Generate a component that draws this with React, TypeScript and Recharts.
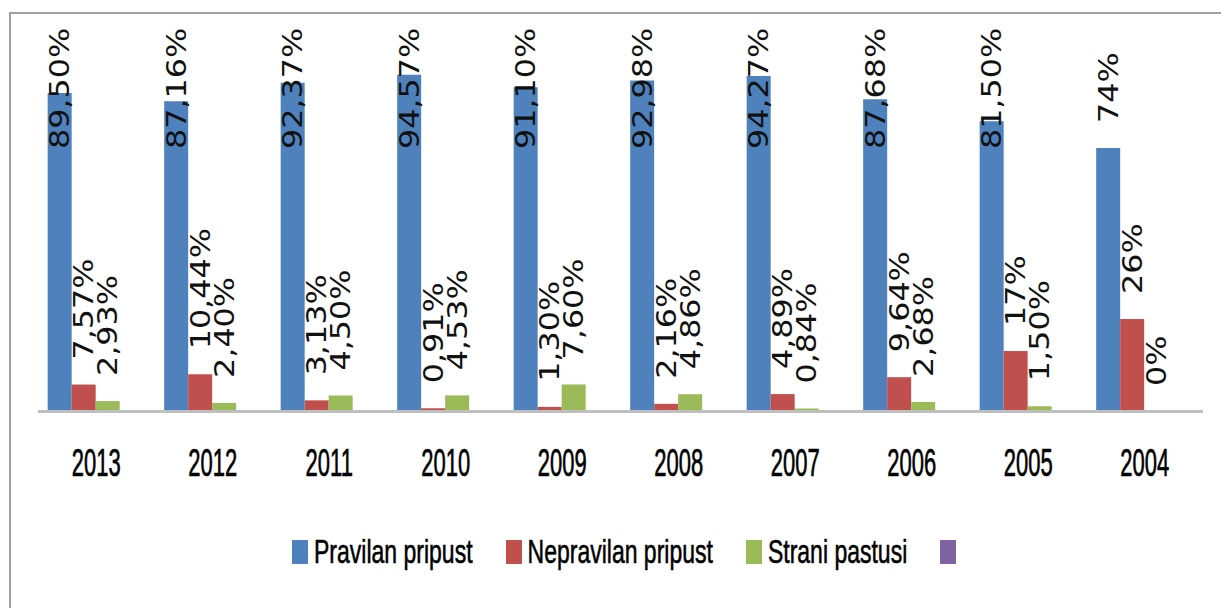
import React from 'react';
import { BarChart, Bar, XAxis, YAxis, LabelList, Legend } from 'recharts';

const years = ['2013', '2012', '2011', '2010', '2009', '2008', '2007', '2006', '2005', '2004'];
const pravilan = [89.5, 87.16, 92.37, 94.57, 91.1, 92.98, 94.27, 87.68, 81.5, 74];
const nepravilan = [7.57, 10.44, 3.13, 0.91, 1.3, 2.16, 4.89, 9.64, 17, 26];
const strani = [2.93, 2.4, 4.5, 4.53, 7.6, 4.86, 0.84, 2.68, 1.5, 0];
const seriesNames = ['Pravilan pripust', 'Nepravilan pripust', 'Strani pastusi', ''];
const seriesColors = ['#4f81bd', '#c0504d', '#9bbb59', '#8064a2'];

const data = years.map((year, i) => ({
  year,
  pravilan: pravilan[i],
  nepravilan: nepravilan[i],
  strani: strani[i],
  empty: null,
}));

const fmt = (v: number) => (Number.isInteger(v) ? `${v}%` : `${v.toFixed(2).replace('.', ',')}%`);

// rough rendered length of a rotated label (DejaVu Sans 26.5px, stretched 1.2)
const charLen = (c: string) => (c === ',' ? 10.1 : c === '%' ? 30.2 : 20.2);
const TOP_LIMIT = 14;

const renderLabel = (props: any) => {
  const vb = props.viewBox || {};
  const x = Number(props.x ?? vb.x);
  const y = Number(props.y ?? vb.y);
  const w = Number(props.width ?? vb.width);
  const h = Number(props.height ?? vb.height ?? 0);
  const value = props.value;
  if (value === null || value === undefined) return null;
  const txt = fmt(Number(value));
  const len = txt.split('').reduce((s, c) => s + charLen(c), 0);
  const top = Math.min(y, y + h);
  let start = top - 25;
  if (start - len < TOP_LIMIT) start = TOP_LIMIT + len;
  const cx = x + w / 2;
  return (
    <text
      transform={`translate(${cx},${start}) rotate(-90) scale(1.2,1)`}
      x={0}
      y={0}
      dy="0.36em"
      textAnchor="start"
      fontFamily="DejaVu Sans"
      fontSize={26.5}
      fill="#111"
    >
      {txt}
    </text>
  );
};

const YearTick = (props: any) => {
  const { x, y, payload } = props;
  return (
    <text
      transform={`translate(${x},${Number(y) + 51.5}) scale(1,1.75)`}
      textAnchor="middle"
      dominantBaseline="central"
      fontFamily="Liberation Sans"
      fontSize={22}
      fill="#000"
      stroke="#000"
      strokeWidth={0.4}
    >
      {payload.value}
    </text>
  );
};

const renderLegend = () => (
  <div style={{ display: 'flex', alignItems: 'center', paddingLeft: 281, height: 30 }}>
    {seriesNames.map((name, i) => (
      <div key={i} style={{ display: 'flex', alignItems: 'center', marginRight: 33 }}>
        <span style={{ display: 'inline-block', width: 16, height: 24, background: seriesColors[i] }} />
        {name && (
          <span
            style={{
              display: 'inline-block',
              marginLeft: 6,
              fontFamily: 'Liberation Sans',
              fontSize: 23,
              color: '#000',
              transform: 'scaleY(1.45)',
              WebkitTextStroke: '0.4px #000',
              whiteSpace: 'nowrap',
            }}
          >
            {name}
          </span>
        )}
      </div>
    ))}
  </div>
);

export default function App() {
  return (
    <div
      style={{
        position: 'fixed',
        left: 0,
        top: 0,
        width: 1221,
        height: 608,
        overflow: 'hidden',
        background: '#fff',
      }}
    >
      <div
        style={{
          position: 'absolute',
          left: 9,
          top: 12,
          width: 1230,
          height: 640,
          border: '2px solid #a0a0a0',
        }}
      >
        <BarChart
          width={1230}
          height={600}
          data={data}
          margin={{ top: 41.5, right: 38, bottom: 142.5, left: 27 }}
          barCategoryGap="8.3%"
          barGap={0}
        >
          <XAxis
            dataKey="year"
            axisLine={{ stroke: '#bfbfbf', strokeWidth: 3 }}
            tickLine={false}
            tickSize={0}
            tickMargin={0}
            height={60}
            tick={<YearTick />}
            interval={0}
          />
          <YAxis hide domain={[0, 100]} />
          <Legend verticalAlign="middle" content={renderLegend} wrapperStyle={{ top: 523, left: 0, width: 1230 }} />
          <Bar dataKey="pravilan" name={seriesNames[0]} fill={seriesColors[0]} isAnimationActive={false}>
            <LabelList dataKey="pravilan" content={renderLabel} />
          </Bar>
          <Bar dataKey="nepravilan" name={seriesNames[1]} fill={seriesColors[1]} isAnimationActive={false}>
            <LabelList dataKey="nepravilan" content={renderLabel} />
          </Bar>
          <Bar dataKey="strani" name={seriesNames[2]} fill={seriesColors[2]} minPointSize={0.5} isAnimationActive={false}>
            <LabelList dataKey="strani" content={renderLabel} />
          </Bar>
          <Bar dataKey="empty" name="series4" fill={seriesColors[3]} isAnimationActive={false} />
        </BarChart>
      </div>
    </div>
  );
}
